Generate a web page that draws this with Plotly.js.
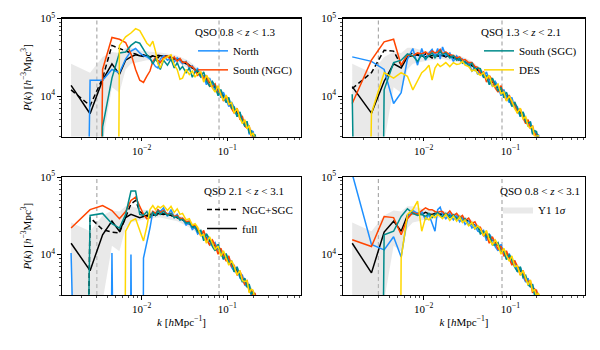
<!DOCTYPE html>
<html>
<head>
<meta charset="utf-8">
<script src="https://cdn.plot.ly/plotly-3.0.1.min.js"></script>
<style>
  html, body { margin: 0; padding: 0; background: #fff; }
  #plot { width: 600px; height: 350px; }
</style>
</head>
<body>
<div id="plot"></div>
<script>
// k bins [h/Mpc] shared by every panel
const kBins = [0.0015, 0.0025, 0.0035, 0.0045, 0.0055, 0.0065, 0.0075, 0.0085, 0.0095, 0.0105,
  0.0115, 0.0125, 0.0135, 0.0145, 0.0155, 0.0165, 0.018, 0.02, 0.022, 0.024, 0.026, 0.028, 0.03,
  0.033, 0.036, 0.039, 0.042, 0.045, 0.049, 0.053, 0.057, 0.062, 0.067, 0.072, 0.078, 0.084, 0.09,
  0.097, 0.104, 0.112, 0.12, 0.13, 0.14, 0.15, 0.16, 0.17, 0.18, 0.19, 0.2, 0.21, 0.22];

// scale cuts (dashed grey lines)
const kCuts = [0.003, 0.08];

// Y1 1 sigma band
const bandLow = [-1, -1, 2500, 13000, 11000, 22000, 26000, 27000, 28000, 28500, 29000, 29000, 29500, 29500, 30000,
  30000, 29500, 29000, 28000, 27500, 27000, 26000, 25000, 23800, 22500, 21200, 19800, 18500, 17100, 16000, 14800,
  13700, 12600, 11700, 10700, 9700, 9000, 8200, 7600, 6800, 6200, 5600, 4950, 4500, 4050, 3700, 3300, 3050, 2850, 2600, 2450];
const bandHigh = [26000, 20000, 32000, 37000, 36000, 42000, 42000, 40000, 39000, 38000, 37500, 37000, 37000, 36500, 36500,
  36500, 36000, 35500, 34500, 34000, 33000, 32000, 31000, 29500, 28000, 26300, 24600, 23000, 21200, 20000, 18500,
  17000, 15600, 14500, 13300, 12100, 11200, 10200, 9400, 8500, 7700, 6900, 6150, 5600, 5000, 4600, 4150, 3800, 3500, 3250, 3000];

// panel 1: 0.8 < z < 1.3
const p1Full = [13700, 5900, 16000, 26000, 19000, 29000, 32000, 34000, 33000, 32500, 33500, 32000, 33000, 32000, 33500,
  33000, 32500, 32500, 31000, 30000, 30500, 29000, 27500, 26500, 25000, 23000, 22000, 20500, 19200, 17600, 16500,
  15000, 14200, 12800, 12000, 10700, 10000, 9200, 8300, 7700, 6800, 6200, 5600, 4900, 4500, 4100, 3700, 3400, 3150, 2900, 2700];
const p1NgcSgc = [12000, 7500, 17000, 45000, 41000, 38000, 36000, 35000, 33000, 34000, 33000, 31500, 33000, 32000, 31000,
  33500, 32000, 33000, 31500, 30000, 30000, 29500, 28000, 26000, 25500, 23000, 22500, 20000, 19000, 18000, 16200,
  15300, 13800, 13100, 11700, 10900, 9900, 9200, 8300, 7700, 6900, 6100, 5600, 4900, 4500, 4000, 3700, 3400, 3100, 2900, 2700];
const p1North = [-1, 16000, 16000, 22000, 20000, 30000, 38000, 41000, 36000, 33000, 32000, 30000, 27000, 24000, 23000,
  30000, 33000, 29000, 31000, 27500, 31000, 28000, 26000, 28000, 23000, 24500, 21000,
  22550, 17500, 18150, 14000, 17000, 14000, 11700, 12850, 9500, 11200, 8650, 7300, 8350, 7050, 5450, 6250, 4600, 4500, 4600, 3200, 3570, 3470, 2600, 2700];
const p1SouthNGC = [-1, -1, 22000, 57000, 54000, 49000, 35000, 22000, 16000, 15000, 18000, 21000, 28000, 31000, 29000,
  27000, 31000, 33000, 29000, 32000, 28000, 30500, 27000, 27500, 24000, 24000, 21500,
  18450, 19950, 16700, 18500, 13400, 13300, 14300, 10700, 11300, 8600, 10000, 8650, 6850, 6050, 6950, 5050, 5400, 4050, 3850, 4050, 3000, 3000, 3050, 2450];
const p1SouthSGC = [-1, -1, 4000, 17000, 36000, 37000, 45000, 50000, 48000, 40000, 34000, 31000, 26000, 30000, 27000,
  22000, 29000, 25000, 30000, 23000, 27000, 22000, 24000, 20000, 23000, 17500, 20500,
  21500, 17500, 20500, 15700, 13400, 15400, 13300, 10100, 12100, 9700, 8200, 9600, 7000, 7200, 5400, 6200, 4800, 4050, 4700, 3330, 3570, 2900, 3190, 2570];
const p1DES = [-1, -1, -1, -1, 45000, 58000, 65000, 74000, 70000, 56000, 48000, 44000, 51000, 38000, 26000,
  23000, 30000, 32000, 34000, 25000, 22000, 16500, 17000, 22000, 19000, 21000, 17500,
  19500, 20500, 15100, 18500, 16000, 12600, 11200, 13600, 10300, 8800, 10300, 7800, 8200, 6000, 6900, 5200, 4400, 4950, 3770, 4140, 3060, 3340, 2760, 2700];

// panel 2: 1.3 < z < 2.1
const p2Full = [13200, 6000, 15500, 26000, 23000, 32000, 33000, 34000, 33000, 32000, 33500, 33000, 34000, 33000, 33500,
  33000, 32500, 33000, 31500, 30000, 29500, 28500, 27500, 26000, 25000, 23000, 22000, 20500, 19000, 17600, 16500,
  15000, 14200, 12800, 12000, 10700, 10000, 9200, 8300, 7700, 6800, 6200, 5600, 4900, 4500, 4100, 3700, 3400, 3150, 2900, 2700];
const p2NgcSgc = [12500, 20000, 39000, 38000, 25000, 33000, 36000, 34000, 32000, 35000, 33000, 31000, 34000, 33000, 32000,
  33500, 32000, 33000, 31000, 30500, 29000, 28500, 27000, 26500, 24500, 23500, 21500, 20500, 18800, 17800, 16200,
  15300, 13800, 13100, 11700, 10900, 9900, 9200, 8300, 7700, 6900, 6100, 5600, 4900, 4500, 4000, 3700, 3400, 3100, 2900, 2700];
const p2North = [32000, 28000, 22000, 8000, 11000, 30000, 41000, 25000, 41000, 29000, 36000, 40000, 33000, 41000, 30000,
  43000, 33000, 36000, 28000, 33000, 29000, 30000, 26000, 27000, 21000, 23000, 19000,
  21500, 17500, 20500, 15700, 13400, 15400, 13300, 10100, 12100, 9700, 8200, 9600, 7000, 7200, 5400, 6200, 4800, 4050, 4700, 3330, 3570, 2900, 3190, 2570];
const p2SouthNGC = [8000, 29000, 50000, 54000, 25000, 34000, 33000, 36000, 35000, 37000, 34000, 38000, 36000, 37000, 40000,
  35000, 37000, 34000, 33500, 31000, 32000, 29000, 29500, 27000, 27000, 24000, 23500,
  19500, 20500, 15100, 18500, 16000, 12600, 11200, 13600, 10300, 8800, 10300, 7800, 8200, 6000, 6900, 5200, 4400, 4950, 3770, 4140, 3060, 3340, 2760, 2700];
const p2SouthSGC = [10500, -1, 12000, 27000, 29000, 35000, 33000, 28000, 34000, 30000, 33000, 36000, 31000, 35000, 38000,
  34000, 36000, 31000, 33000, 29000, 30500, 26500, 28000, 24500, 26500, 21500, 23000,
  22550, 17500, 18150, 14000, 17000, 14000, 11700, 12850, 9500, 11200, 8650, 7300, 8350, 7050, 5450, 6250, 4600, 4500, 4600, 3200, 3570, 3470, 2600, 2700];
const p2DES = [-1, 6000, 20000, 17000, 20000, 18000, 12000, 16000, 20000, 22000, 25000, 16000, 23000, 26000, 24000,
  25000, 27000, 24000, 27000, 25500, 26000, 28000, 25000, 24000, 21000, 22000, 19500,
  18450, 19950, 16700, 18500, 13400, 13300, 14300, 10700, 11300, 8600, 10000, 8650, 6850, 6050, 6950, 5050, 5400, 4050, 3850, 4050, 3000, 3000, 3050, 2450];

// panel 3: 2.1 < z < 3.1
const p3Full = [14000, 6200, 18000, 27000, 20000, 30000, 33000, 31000, 30000, 31000, 32000, 33000, 32000, 33500, 34000,
  34000, 33500, 33000, 32000, 31500, 30000, 29500, 28000, 26500, 25000, 23500, 22000, 20500, 19200, 17600, 16500,
  15000, 14200, 12800, 12000, 10700, 10000, 9200, 8300, 7700, 6800, 6200, 5600, 4900, 4500, 4100, 3700, 3400, 3150, 2900, 2700];
const p3NgcSgc = [-1, 30000, 21000, 19500, 19000, 31000, 45000, 50000, 36000, 33000, 31000, 34000, 33000, 32000, 33000,
  33500, 33000, 34000, 32000, 31000, 30500, 29000, 28000, 26500, 25500, 23500, 22500, 20500, 19500, 17800, 16800,
  15300, 14300, 13000, 12100, 10800, 10100, 9200, 8400, 7700, 6900, 6200, 5600, 5000, 4500, 4100, 3700, 3400, 3150, 2900, 2700];
const p3North = [10500, -1, -1, 10500, -1, -1, 10000, -1, -1, 9000, 14000, 22000, 36000, 32000, 38000,
  36000, 40000, 31000, 38000, 30000, 33000, 28000, 29000, 24000, 26000, 21000, 22500,
  18450, 19950, 16700, 18500, 13400, 13300, 14300, 10700, 11300, 8600, 10000, 8650, 6850, 6050, 6950, 5050, 5400, 4050, 3850, 4050, 3000, 3000, 3050, 2450];
const p3SouthNGC = [22000, 38000, 43000, 37000, 29000, 36000, 50000, 55000, 42000, 33000, 29000, 30000, 36000, 34000, 38000,
  35000, 37000, 33000, 34000, 31000, 32000, 29000, 29500, 26500, 27000, 23500, 23800,
  21500, 17500, 20500, 15700, 13400, 15400, 13300, 10100, 12100, 9700, 8200, 9600, 7000, 7200, 5400, 6200, 4800, 4050, 4700, 3330, 3570, 2900, 3190, 2570];
const p3SouthSGC = [-1, 32000, 34000, 25000, 22000, 33000, 66000, 66000, 33000, 32000, 36000, 30000, 35000, 32000, 37000,
  33000, 36000, 32000, 34000, 30000, 31000, 28000, 28500, 25500, 26000, 22500, 23000,
  19500, 20500, 15100, 18500, 16000, 12600, 11200, 13600, 10300, 8800, 10300, 7800, 8200, 6000, 6900, 5200, 4400, 4950, 3770, 4140, 3060, 3340, 2760, 2700];
const p3DES = [-1, -1, -1, -1, -1, 20000, 27000, 29000, 20000, 15000, 23000, 38000, 43000, 38000, 42000,
  40000, 43000, 37000, 42000, 35000, 39000, 33000, 34000, 28000, 29000, 24000, 25000,
  22550, 17500, 18150, 14000, 17000, 14000, 11700, 12850, 9500, 11200, 8650, 7300, 8350, 7050, 5450, 6250, 4600, 4500, 4600, 3200, 3570, 3470, 2600, 2700];

// panel 4: 0.8 < z < 3.1
const p4Full = [14000, 5800, 19500, 27000, 20000, 32000, 34000, 34000, 33000, 35000, 33500, 33000, 34000, 33000, 33500,
  33500, 33000, 32500, 31500, 31000, 30000, 29500, 28500, 27000, 25500, 24000, 22500, 21000, 19500, 18000, 17000,
  15500, 14500, 13200, 12200, 11000, 10200, 9300, 8500, 7800, 7000, 6300, 5700, 5100, 4600, 4200, 3800, 3500, 3200, 3000, 2800];
const p4North = [110000, 13500, 11500, 17000, 9300, 30000, 37000, 34000, 36000, 28000, 33000, 25000, 20000, 38000, 41000,
  33000, 29000, 34000, 28000, 32000, 26500, 29500, 24500, 27500, 22000, 24000, 20000,
  19500, 20500, 15100, 18500, 16000, 12600, 11200, 13600, 10300, 8800, 10300, 7800, 8200, 6000, 6900, 5200, 4400, 4950, 3770, 4140, 3060, 3340, 2760, 2700];
const p4SouthNGC = [15500, 12700, 31000, 30000, 18000, 29000, 35000, 33000, 37000, 40000, 38000, 38000, 36000, 35000, 36000,
  36000, 32000, 36500, 31500, 34000, 30000, 32000, 27500, 29500, 25000, 26500, 22500,
  22550, 17500, 18150, 14000, 17000, 14000, 11700, 12850, 9500, 11200, 8650, 7300, 8350, 7050, 5450, 6250, 4600, 4500, 4600, 3200, 3570, 3470, 2600, 2700];
const p4SouthSGC = [-1, -1, 18000, 20000, 31000, 39000, 34000, 32000, 33000, 31000, 34000, 30000, 33000, 35000, 32000,
  31000, 34000, 30000, 32500, 28500, 31000, 26500, 29000, 24000, 25500, 21500, 23000,
  18450, 19950, 16700, 18500, 13400, 13300, 14300, 10700, 11300, 8600, 10000, 8650, 6850, 6050, 6950, 5050, 5400, 4050, 3850, 4050, 3000, 3000, 3050, 2450];
const p4DES = [-1, -1, -1, -1, 9000, 33000, 38000, 49000, 20000, 30000, 28000, 32000, 30000, 33000, 31000,
  29000, 33000, 27500, 31500, 27000, 30500, 26000, 28000, 23500, 26000, 21500, 23500,
  21500, 17500, 20500, 15700, 13400, 15400, 13300, 10100, 12100, 9700, 8200, 9600, 7000, 7200, 5400, 6200, 4800, 4050, 4700, 3330, 3570, 2900, 3190, 2570];

const panelTitles = ['QSO 0.8 &lt; <i>z</i> &lt; 1.3', 'QSO 1.3 &lt; <i>z</i> &lt; 2.1',
                     'QSO 2.1 &lt; <i>z</i> &lt; 3.1', 'QSO 0.8 &lt; <i>z</i> &lt; 3.1'];

// negative power is pushed far below the axis, as a log plot clips it
const clipNeg = arr => arr.map(v => (v > 0 ? v : 1e-12));

const panels = [
  { full: p1Full, ngcsgc: p1NgcSgc, north: p1North, ngc: p1SouthNGC, sgc: p1SouthSGC, des: p1DES, show: ['north', 'ngc'] },
  { full: p2Full, ngcsgc: p2NgcSgc, north: p2North, ngc: p2SouthNGC, sgc: p2SouthSGC, des: p2DES, show: ['sgc', 'des'] },
  { full: p3Full, ngcsgc: p3NgcSgc, north: p3North, ngc: p3SouthNGC, sgc: p3SouthSGC, des: p3DES, show: ['ngcsgc', 'full'] },
  { full: p4Full, ngcsgc: null, north: p4North, ngc: p4SouthNGC, sgc: p4SouthSGC, des: p4DES, show: ['band'] }
];

const styles = {
  ngcsgc: { name: 'NGC+SGC', color: '#000000', dash: '5px,3px' },
  full:   { name: 'full', color: '#000000', dash: 'solid' },
  north:  { name: 'North', color: '#1E90FF', dash: 'solid' },
  ngc:    { name: 'South (NGC)', color: '#FF4500', dash: 'solid' },
  sgc:    { name: 'South (SGC)', color: '#008B8B', dash: 'solid' },
  des:    { name: 'DES', color: '#FFD700', dash: 'solid' }
};

const xDom = [[0.1033, 0.5017], [0.5717, 0.975], [0.1033, 0.5017], [0.5717, 0.975]];
const yDom = [[0.61, 0.947], [0.61, 0.947], [0.157, 0.494], [0.157, 0.494]];
const FONT = 'Liberation Serif, DejaVu Serif, serif';

const traces = [];
const layout = {
  width: 600, height: 350,
  margin: { l: 0, r: 0, t: 0, b: 0 },
  paper_bgcolor: '#fff', plot_bgcolor: '#fff',
  font: { family: FONT, size: 11, color: '#000' },
  shapes: []
};

const minorX = [];
[0.001, 0.01, 0.1].forEach(d => { for (let m = 2; m <= 9; m++) minorX.push(m * d); });
const minorY = [];
[1000, 10000].forEach(d => { for (let m = 2; m <= 9; m++) minorY.push(m * d); });

panels.forEach((p, i) => {
  const sfx = i === 0 ? '' : String(i + 1);
  const xa = 'x' + sfx, ya = 'y' + sfx;
  const leg = 'legend' + sfx;

  // band
  traces.push({
    x: kBins, y: clipNeg(bandLow), xaxis: xa, yaxis: ya, mode: 'lines',
    line: { width: 0 }, hoverinfo: 'skip', showlegend: false
  });
  traces.push({
    x: kBins, y: bandHigh, xaxis: xa, yaxis: ya, mode: 'lines', fill: 'tonexty',
    fillcolor: 'rgba(200,200,200,0.4)', line: { width: 0 },
    name: 'Y1 1<i>σ</i>', legend: leg, showlegend: p.show.includes('band')
  });

  ['ngcsgc', 'full', 'north', 'ngc', 'sgc', 'des'].forEach(key => {
    if (!p[key]) return;
    const s = styles[key];
    traces.push({
      x: kBins, y: clipNeg(p[key]), xaxis: xa, yaxis: ya, mode: 'lines',
      line: { color: s.color, width: 1.5, dash: s.dash },
      name: s.name, legend: leg, showlegend: p.show.includes(key)
    });
  });

  layout['xaxis' + sfx] = {
    type: 'log', domain: xDom[i], anchor: ya, range: [-2.93, -0.14],
    showline: true, mirror: true, linecolor: '#000', linewidth: 1.3,
    showgrid: false, zeroline: false,
    ticks: 'outside', ticklen: 3.5, tickwidth: 1, tickcolor: '#000',
    tickmode: 'array', tickvals: [0.01, 0.1], ticktext: ['10<sup>−2</sup>', '10<sup>−1</sup>'],
    tickfont: { size: 11 },
    minor: { tickmode: 'array', tickvals: minorX, ticks: 'outside', ticklen: 2, tickwidth: 0.7, tickcolor: '#000' },
    title: i >= 2 ? { text: '<i>k</i> [<i>h</i>Mpc<sup>−1</sup>]', font: { size: 11 }, standoff: 4 } : { text: '' }
  };
  layout['yaxis' + sfx] = {
    type: 'log', domain: yDom[i], anchor: xa, range: [Math.log10(3000), 5],
    showline: true, mirror: true, linecolor: '#000', linewidth: 1.3,
    showgrid: false, zeroline: false,
    ticks: 'outside', ticklen: 3.5, tickwidth: 1, tickcolor: '#000',
    tickmode: 'array', tickvals: [1e4, 1e5], ticktext: ['10<sup>4</sup>', '10<sup>5</sup>'],
    tickfont: { size: 11 },
    minor: { tickmode: 'array', tickvals: minorY, ticks: 'outside', ticklen: 2, tickwidth: 0.7, tickcolor: '#000' },
    title: (i % 2 === 0) ? { text: '<i>P</i>(<i>k</i>) [<i>h</i><sup>−3</sup>Mpc<sup>3</sup>]', font: { size: 11 }, standoff: 6 } : { text: '' }
  };

  layout[leg] = {
    title: { text: panelTitles[i], font: { size: 11 }, side: 'top' },
    x: xDom[i][1] - 0.005, y: yDom[i][1] - 0.01, xanchor: 'right', yanchor: 'top',
    bgcolor: 'rgba(0,0,0,0)', borderwidth: 0, font: { size: 11 },
    itemwidth: 30, tracegroupgap: 0, traceorder: 'normal'
  };

  kCuts.forEach(kc => {
    layout.shapes.push({
      type: 'line', xref: xa, yref: ya + ' domain', x0: kc, x1: kc, y0: 0, y1: 1,
      line: { color: '#999', width: 1, dash: '4px,3px' }, layer: 'below'
    });
  });
});

Plotly.newPlot('plot', traces, layout, { staticPlot: true });
</script>
</body>
</html>
